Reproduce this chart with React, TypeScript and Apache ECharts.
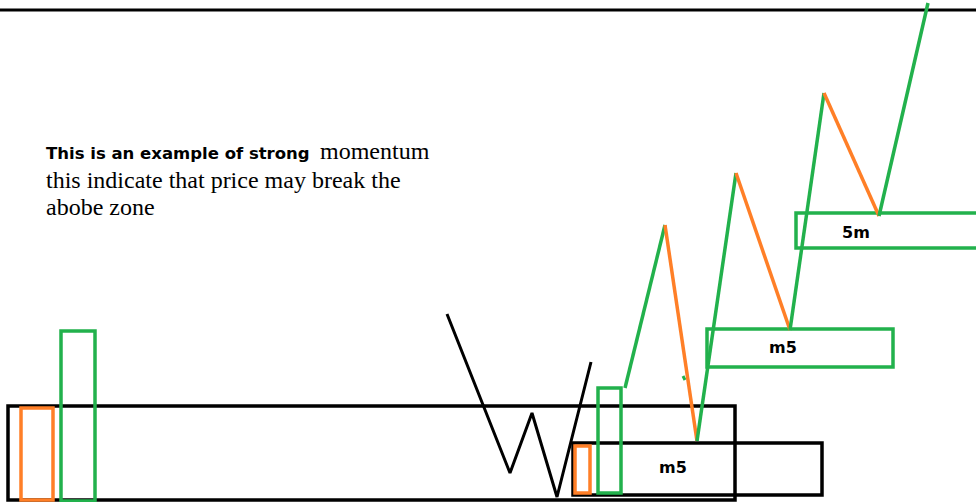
import React, { useEffect, useRef } from "react";
import * as echarts from "echarts";

// Drawing space equals picture pixels (x right, y down)
const topLine: number[][] = [[0, 10], [976, 10]];
const wPoints: number[][] = [[447, 314], [510, 473], [532, 413], [557, 497], [591, 362]];
const zigPoints: number[][] = [[625, 388], [665, 225], [697, 441], [736, 173], [790, 330], [824, 93], [879, 216], [928, 3]];
const greenDot: number[][] = [[683, 376], [685, 380]];

const blackRects: number[][] = [[8, 406, 735, 500], [573, 443, 822, 495]];
const orangeRects: number[][] = [[21, 408, 53, 500], [575, 446, 590, 493]];
const greenRects: number[][] = [[61, 331, 95, 501], [598, 388, 621, 493], [707, 329, 893, 367], [796, 213, 982, 248]];

const zoneLabels: (string | number)[][] = [[673, 467, "m5"], [783, 347, "m5"], [856, 232, "5m"]];

const noteBold = "This is an example of strong";
const noteLines: string[] = ["momentum", "this indicate that price may break the", "abobe zone"];

const GREEN = "#22b14c";
const ORANGE = "#ff7f27";
const BLACK = "#000000";

function rectSeries(data: number[][], color: string) {
  return {
    type: "custom",
    data,
    clip: true,
    renderItem: (params: any, api: any) => {
      const p1 = api.coord([api.value(0), api.value(1)]);
      const p2 = api.coord([api.value(2), api.value(3)]);
      return {
        type: "rect",
        shape: {
          x: Math.min(p1[0], p2[0]),
          y: Math.min(p1[1], p2[1]),
          width: Math.abs(p2[0] - p1[0]),
          height: Math.abs(p2[1] - p1[1]),
        },
        style: { fill: "none", stroke: color, lineWidth: 3.5 },
      };
    },
  };
}

function lineSeries(data: number[][], color: string, width = 3) {
  return {
    type: "line",
    data,
    symbol: "none",
    clip: false,
    lineStyle: { color, width },
  };
}

export default function App() {
  const ref = useRef<HTMLDivElement>(null);
  useEffect(() => {
    if (!ref.current) return;
    const chart = echarts.init(ref.current, undefined, { renderer: "svg" });
    const zigSeries: any[] = [];
    for (let i = 0; i < zigPoints.length - 1; i++) {
      const up = zigPoints[i + 1][1] < zigPoints[i][1];
      zigSeries.push(lineSeries([zigPoints[i], zigPoints[i + 1]], up ? GREEN : ORANGE, 3.5));
    }
    chart.setOption({
      animation: false,
      backgroundColor: "#ffffff",
      grid: { left: 0, right: 0, top: 0, bottom: 0 },
      xAxis: { type: "value", min: 0, max: 976, show: false },
      yAxis: { type: "value", min: 0, max: 502, inverse: true, show: false },
      series: [
        lineSeries(topLine, BLACK, 3),
        rectSeries(blackRects, BLACK),
        rectSeries(orangeRects, ORANGE),
        rectSeries(greenRects, GREEN),
        lineSeries(wPoints, BLACK, 3),
        lineSeries(greenDot, GREEN, 3),
        ...zigSeries,
        {
          type: "custom",
          data: zoneLabels,
          renderItem: (params: any, api: any) => {
            const p = api.coord([api.value(0), api.value(1)]);
            return {
              type: "text",
              x: p[0],
              y: p[1],
              style: {
                text: String(zoneLabels[params.dataIndex][2]),
                align: "center",
                verticalAlign: "middle",
                font: "bold 16px 'DejaVu Sans', Verdana, sans-serif",
                fill: "#000",
              },
            };
          },
        },
      ],
      graphic: [
        {
          type: "text",
          x: 46,
          y: 153,
          style: {
            text: noteBold,
            font: "bold 16.5px 'DejaVu Sans', Verdana, sans-serif",
            fill: "#000",
            verticalAlign: "middle",
          },
        },
        {
          type: "text",
          x: 320,
          y: 151,
          style: {
            text: noteLines[0],
            font: "24px 'Liberation Serif', 'Times New Roman', serif",
            fill: "#000",
            verticalAlign: "middle",
          },
        },
        {
          type: "text",
          x: 46,
          y: 180,
          style: {
            text: noteLines[1],
            font: "24px 'Liberation Serif', 'Times New Roman', serif",
            fill: "#000",
            verticalAlign: "middle",
          },
        },
        {
          type: "text",
          x: 46,
          y: 207,
          style: {
            text: noteLines[2],
            font: "24px 'Liberation Serif', 'Times New Roman', serif",
            fill: "#000",
            verticalAlign: "middle",
          },
        },
      ],
    });
    return () => chart.dispose();
  }, []);
  return (
    <div
      ref={ref}
      style={{ position: "fixed", left: 0, top: 0, width: 976, height: 502, background: "#fff" }}
    />
  );
}
